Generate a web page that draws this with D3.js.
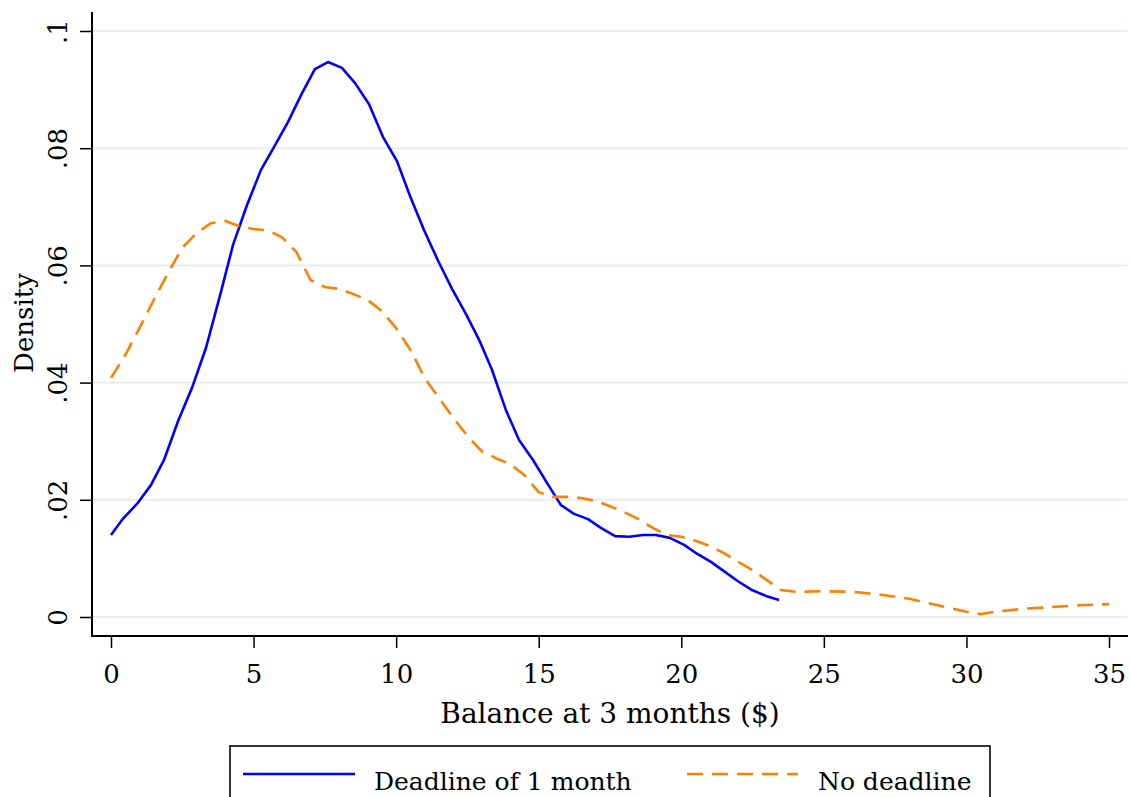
<!DOCTYPE html>
<html>
<head>
<meta charset="utf-8">
<script src="https://cdn.jsdelivr.net/npm/d3@7"></script>
<style>
  html, body { margin: 0; padding: 0; background: #fff; }
  svg { display: block; }
  text { font-family: "DejaVu Serif", serif; fill: #000; }
</style>
</head>
<body>
<div id="chart"></div>
<script>
// balance at 3 months ($) and kernel density
const deadlineX = [0, 0.39, 0.91, 1.40, 1.86, 2.35, 2.84, 3.33, 3.82, 4.28, 4.77, 5.26, 5.75, 6.21, 6.70, 7.15, 7.61, 8.10, 8.56, 9.05, 9.54, 10.03, 10.49, 10.98, 11.47, 11.96, 12.45, 12.91, 13.36, 13.85, 14.31, 14.80, 15.29, 15.78, 16.24, 16.73, 17.18, 17.68, 18.17, 18.66, 19.11, 19.60, 20.10, 20.55, 21.04, 21.53, 21.99, 22.48, 22.97, 23.43];
const deadlineY = [0.0140, 0.0166, 0.0193, 0.0225, 0.0268, 0.0334, 0.0391, 0.0459, 0.0548, 0.0635, 0.0703, 0.0763, 0.0805, 0.0845, 0.0894, 0.0935, 0.0947, 0.0937, 0.0911, 0.0875, 0.0819, 0.0778, 0.0718, 0.0660, 0.0608, 0.0560, 0.0517, 0.0473, 0.0422, 0.0353, 0.0302, 0.0268, 0.0229, 0.0191, 0.0176, 0.0167, 0.0152, 0.0138, 0.0137, 0.0140, 0.0140, 0.0135, 0.0123, 0.0108, 0.0094, 0.0077, 0.0061, 0.0046, 0.0036, 0.0029];

const noDeadlineX = [0, 0.5, 1, 1.5, 2, 2.5, 3, 3.5, 4, 4.5, 5, 5.5, 6, 6.5, 7, 7.5, 8, 8.5, 9, 9.5, 10, 10.5, 11, 11.5, 12, 12.5, 13, 13.5, 14, 14.5, 15, 15.5, 16, 16.5, 17, 17.5, 18, 18.5, 19, 19.5, 20, 20.5, 21, 21.5, 22, 22.5, 23, 23.5, 24, 25, 26, 27, 28, 29, 30, 30.5, 31, 32, 33, 34, 35];
const noDeadlineY = [0.0408, 0.0447, 0.0493, 0.0541, 0.0587, 0.0630, 0.0655, 0.0672, 0.0676, 0.0667, 0.0662, 0.0660, 0.0648, 0.0623, 0.0575, 0.0563, 0.0560, 0.0551, 0.0541, 0.0522, 0.0493, 0.0456, 0.0408, 0.0374, 0.0340, 0.0309, 0.0283, 0.0271, 0.0261, 0.0242, 0.0213, 0.0205, 0.0205, 0.0203, 0.0198, 0.0189, 0.0179, 0.0167, 0.0152, 0.0140, 0.0137, 0.0130, 0.0121, 0.0109, 0.0094, 0.0080, 0.0063, 0.0046, 0.0043, 0.0044, 0.0043, 0.0038, 0.0031, 0.0020, 0.0009, 0.0005, 0.0009, 0.0014, 0.0017, 0.0020, 0.0022];

const xTicks = [0, 5, 10, 15, 20, 25, 30, 35];
const yTicks = [0, 0.02, 0.04, 0.06, 0.08, 0.1];
const yTickLabels = ["0", ".02", ".04", ".06", ".08", ".1"];

const seriesNames = ["Deadline of 1 month", "No deadline"];

const width = 1130, height = 797;
const frame = { left: 92, right: 1128, top: 12, bottom: 636 };
const font = "DejaVu Serif";

const svg = d3.select("#chart").append("svg")
  .attr("width", width)
  .attr("height", height);

// scales: 0 at x=111 and 35 at x=1109; 0 at y=617 and .1 at y=31
const x = d3.scaleLinear().domain([0, 35]).range([111, 1109]);
const y = d3.scaleLinear().domain([0, 0.1]).range([617, 31]);

// grid lines
svg.append("g")
  .selectAll("line")
  .data(yTicks)
  .join("line")
  .attr("x1", frame.left)
  .attr("x2", frame.right)
  .attr("y1", d => y(d))
  .attr("y2", d => y(d))
  .attr("stroke", "#e6eef0")
  .attr("stroke-width", 2);

// y axis
const yAxis = svg.append("g")
  .attr("transform", `translate(${frame.left},0)`)
  .call(d3.axisLeft(y).tickValues(yTicks).tickSize(12).tickSizeOuter(0)
    .tickFormat((d, i) => yTickLabels[i]));
yAxis.select(".domain").remove();
yAxis.selectAll(".tick line").attr("stroke", "#000").attr("stroke-width", 1.5);
yAxis.selectAll(".tick text")
  .attr("font-size", 26)
  .attr("font-family", font)
  .attr("text-anchor", "middle")
  .attr("dy", 0)
  .attr("x", 0)
  .attr("transform", "translate(-25,0) rotate(-90)");

// x axis
const xAxis = svg.append("g")
  .attr("transform", `translate(0,${frame.bottom})`)
  .call(d3.axisBottom(x).tickValues(xTicks).tickSize(12).tickSizeOuter(0));
xAxis.select(".domain").remove();
xAxis.selectAll(".tick line").attr("stroke", "#000").attr("stroke-width", 1.5);
xAxis.selectAll(".tick text")
  .attr("font-size", 26)
  .attr("font-family", font)
  .attr("dy", 0)
  .attr("y", 47);

// frame lines (left and bottom only)
svg.append("line")
  .attr("x1", frame.left).attr("x2", frame.left)
  .attr("y1", frame.top).attr("y2", frame.bottom + 1)
  .attr("stroke", "#000").attr("stroke-width", 2);
svg.append("line")
  .attr("x1", frame.left).attr("x2", frame.right)
  .attr("y1", frame.bottom).attr("y2", frame.bottom)
  .attr("stroke", "#000").attr("stroke-width", 2);

// axis titles
svg.append("text")
  .attr("x", (frame.left + frame.right) / 2)
  .attr("y", 723)
  .attr("text-anchor", "middle")
  .attr("font-size", 28)
  .text("Balance at 3 months ($)");

svg.append("text")
  .attr("transform", "translate(33,323) rotate(-90)")
  .attr("text-anchor", "middle")
  .attr("font-size", 26)
  .text("Density");

// density lines
const line = d3.line().x(d => x(d[0])).y(d => y(d[1]));

svg.append("path")
  .datum(deadlineX.map((v, i) => [v, deadlineY[i]]))
  .attr("fill", "none")
  .attr("stroke", "#0000ff")
  .attr("stroke-width", 2.6)
  .attr("stroke-linejoin", "round")
  .attr("d", line);

svg.append("path")
  .datum(noDeadlineX.map((v, i) => [v, noDeadlineY[i]]))
  .attr("fill", "none")
  .attr("stroke", "#ff8000")
  .attr("stroke-width", 2.6)
  .attr("stroke-dasharray", "16,9")
  .attr("d", line);

// legend
const legend = svg.append("g");
legend.append("rect")
  .attr("x", 230).attr("y", 746)
  .attr("width", 760).attr("height", 80)
  .attr("fill", "#fff")
  .attr("stroke", "#222")
  .attr("stroke-width", 1.8);

legend.append("line")
  .attr("x1", 243).attr("x2", 355)
  .attr("y1", 774).attr("y2", 774)
  .attr("stroke", "#0000ff").attr("stroke-width", 2.6);
legend.append("text")
  .attr("x", 374).attr("y", 790)
  .attr("font-size", 25)
  .text(seriesNames[0]);

legend.append("line")
  .attr("x1", 687).attr("x2", 798)
  .attr("y1", 774).attr("y2", 774)
  .attr("stroke", "#ff8000").attr("stroke-width", 2.6)
  .attr("stroke-dasharray", "16,9");
legend.append("text")
  .attr("x", 818).attr("y", 790)
  .attr("font-size", 25)
  .text(seriesNames[1]);
</script>
</body>
</html>
